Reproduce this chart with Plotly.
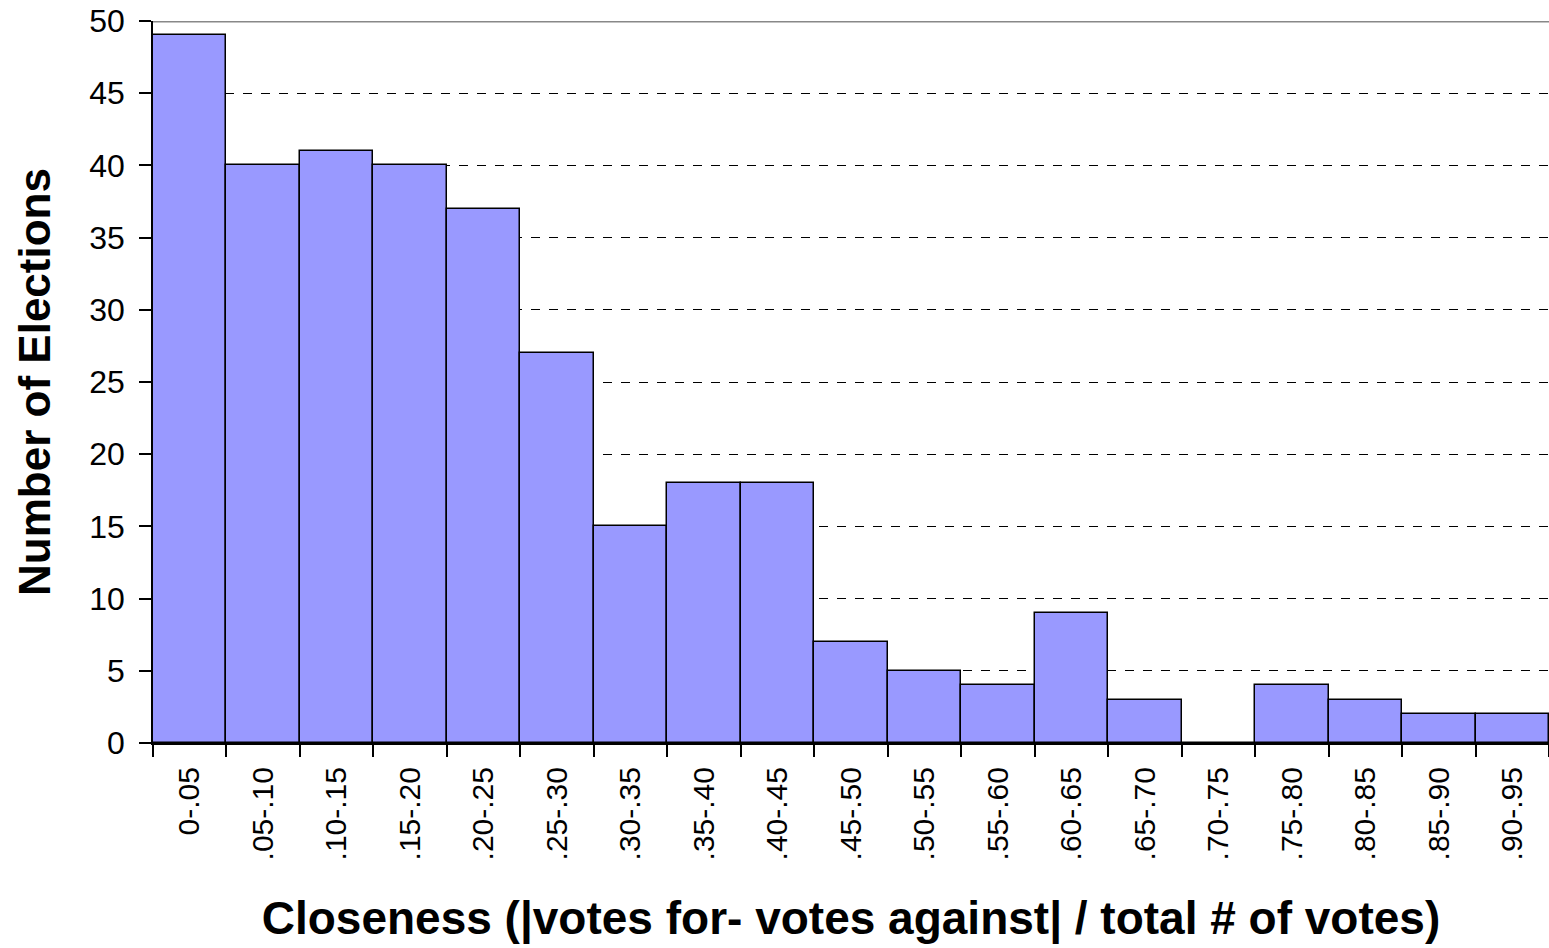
import plotly.graph_objects as go

categories = ["0-.05", ".05-.10", ".10-.15", ".15-.20", ".20-.25", ".25-.30", ".30-.35",
              ".35-.40", ".40-.45", ".45-.50", ".50-.55", ".55-.60", ".60-.65", ".65-.70",
              ".70-.75", ".75-.80", ".80-.85", ".85-.90", ".90-.95"]
counts = [49, 40, 41, 40, 37, 27, 15, 18, 18, 7, 5, 4, 9, 3, 0, 4, 3, 2, 2]
y_ticks = [0, 5, 10, 15, 20, 25, 30, 35, 40, 45, 50]

FONT = "Liberation Sans, Arial, sans-serif"

fig = go.Figure(go.Bar(
    x=categories, y=counts,
    marker=dict(color="#9999FF", line=dict(color="black", width=1.5)),
))

fig.update_layout(
    width=1549, height=948,
    margin=dict(l=153, r=0, t=21, b=205, pad=0),
    paper_bgcolor="white", plot_bgcolor="white",
    bargap=0, showlegend=False,
    font=dict(family=FONT, color="black"),
)
fig.update_xaxes(
    type="category", tickson="boundaries", ticks="outside", ticklen=12, tickwidth=1.5,
    tickcolor="black", showline=True, linecolor="black", linewidth=2,
    tickangle=-90, tickfont=dict(size=30, family=FONT), ticklabelstandoff=10,
    title=dict(text="<b>Closeness (|votes for- votes against| / total # of votes)</b>",
               font=dict(size=46, family=FONT), standoff=42),
    showgrid=False,
)
fig.update_yaxes(
    range=[0, 50], tickvals=y_ticks, ticks="outside", ticklen=12, tickwidth=1.5,
    tickcolor="black", showline=True, linecolor="black", linewidth=1.5,
    tickfont=dict(size=32, family=FONT), ticklabelstandoff=8,
    showgrid=True, gridcolor="black", griddash="dash", gridwidth=1,
    title=dict(text="<b>Number of Elections</b>", font=dict(size=44, family=FONT), standoff=25),
    zeroline=False,
)
fig.add_shape(type="line", xref="paper", yref="y", x0=0, x1=1, y0=50, y1=50,
              line=dict(color="#888888", width=3))

fig.write_html("out.html", config={"displayModeBar": False},
               post_script="document.body.style.margin='0px';")
